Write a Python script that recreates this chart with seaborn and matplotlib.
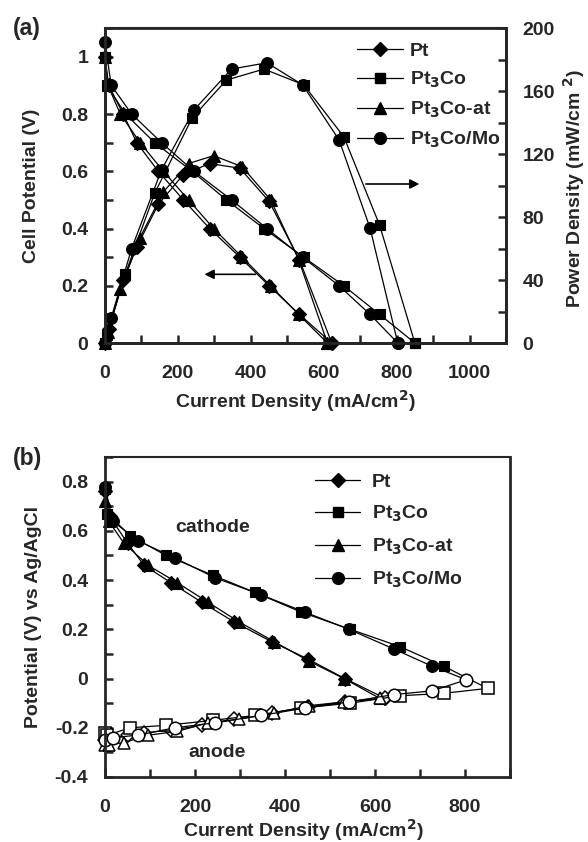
import seaborn as sns
import matplotlib.pyplot as plt
from matplotlib.lines import Line2D
from matplotlib.ticker import MultipleLocator

# current density (mA/cm2) at each measured point, per catalyst
i_pt = [0, 10, 50, 87, 146, 215, 287, 370, 450, 533, 622]
i_pt3co = [0, 5, 56, 136, 239, 333, 436, 545, 655, 753, 850]
i_pt3co_at = [0, 8, 42, 96, 160, 229, 298, 376, 454, 531, 610]
i_pt3co_mo = [0, 17, 73, 155, 244, 347, 444, 542, 642, 727, 803]

# cell potential (V)
v_pt = [1.0, 0.9, 0.8, 0.7, 0.6, 0.5, 0.4, 0.3, 0.2, 0.1, 0.0]
v_pt3co = [1.0, 0.9, 0.8, 0.7, 0.6, 0.5, 0.4, 0.3, 0.2, 0.1, 0.0]
v_pt3co_at = [1.0, 0.9, 0.8, 0.7, 0.6, 0.5, 0.4, 0.3, 0.2, 0.1, 0.0]
v_pt3co_mo = [1.05, 0.9, 0.8, 0.7, 0.6, 0.5, 0.4, 0.3, 0.2, 0.1, 0.0]

# power density (mW/cm2)
p_pt = [0, 9, 40, 61, 88, 107, 114, 111, 90, 53, 0]
p_pt3co = [0, 5, 44, 95, 143, 167, 174, 164, 131, 75, 0]
p_pt3co_at = [0, 7, 34, 67, 96, 114, 119, 112, 91, 53, 0]
p_pt3co_mo = [0, 16, 60, 110, 148, 174, 178, 164, 129, 73, 0]

# electrode potentials vs Ag/AgCl (V)
cat_pt = [0.76, 0.66, 0.55, 0.46, 0.39, 0.31, 0.23, 0.15, 0.08, 0.0, -0.08]
cat_pt3co = [0.77, 0.67, 0.58, 0.50, 0.42, 0.35, 0.27, 0.20, 0.13, 0.05, -0.04]
cat_pt3co_at = [0.72, 0.64, 0.55, 0.46, 0.39, 0.31, 0.23, 0.15, 0.07, 0.0, -0.08]
cat_pt3co_mo = [0.78, 0.64, 0.56, 0.49, 0.41, 0.34, 0.27, 0.20, 0.12, 0.05, -0.005]

an_pt = [-0.25, -0.25, -0.23, -0.22, -0.21, -0.19, -0.165, -0.14, -0.115, -0.095, -0.08]
an_pt3co = [-0.22, -0.23, -0.20, -0.19, -0.17, -0.15, -0.12, -0.10, -0.07, -0.06, -0.04]
an_pt3co_at = [-0.27, -0.27, -0.26, -0.23, -0.215, -0.18, -0.165, -0.14, -0.11, -0.095, -0.08]
an_pt3co_mo = [-0.25, -0.24, -0.23, -0.20, -0.18, -0.15, -0.12, -0.095, -0.065, -0.05, -0.005]

names = ['Pt', 'Pt$_3$Co', 'Pt$_3$Co-at', 'Pt$_3$Co/Mo']
markers = ['D', 's', '^', 'o']
msizes = [7, 7.5, 8.5, 8.5]

sns.set_theme(style='ticks')
plt.rcParams['font.family'] = ['Liberation Sans', 'DejaVu Sans']
plt.rcParams['font.weight'] = 'bold'
plt.rcParams['mathtext.default'] = 'bf'

fig = plt.figure(figsize=(5.88, 8.42), dpi=100)
ax = fig.add_axes([0.1786, 0.5926, 0.682, 0.374])
ax2 = ax.twinx()
bx = fig.add_axes([0.1786, 0.0772, 0.6888, 0.380])

currents = [i_pt, i_pt3co, i_pt3co_at, i_pt3co_mo]
volts = [v_pt, v_pt3co, v_pt3co_at, v_pt3co_mo]
powers = [p_pt, p_pt3co, p_pt3co_at, p_pt3co_mo]
cathodes = [cat_pt, cat_pt3co, cat_pt3co_at, cat_pt3co_mo]
anodes = [an_pt, an_pt3co, an_pt3co_at, an_pt3co_mo]

line_kw = dict(color='black', linewidth=0.9, sort=False, estimator=None,
               markeredgecolor='black', legend=False, clip_on=False)

for cur, v, p, m, ms in zip(currents, volts, powers, markers, msizes):
    sns.lineplot(x=cur, y=v, ax=ax, marker=m, markersize=ms,
                 markerfacecolor='black', markeredgewidth=0.8, **line_kw)
    sns.lineplot(x=cur, y=p, ax=ax2, marker=m, markersize=ms,
                 markerfacecolor='black', markeredgewidth=0.8, **line_kw)

for cur, c, m, ms in zip(currents, cathodes, markers, msizes):
    sns.lineplot(x=cur, y=c, ax=bx, marker=m, markersize=ms,
                 markerfacecolor='black', markeredgewidth=0.8, **line_kw)
for cur, a, m, ms in zip(currents, anodes, markers, msizes):
    sns.lineplot(x=cur, y=a, ax=bx, marker=m, markersize=ms + 0.5,
                 markerfacecolor='white', markeredgewidth=1.1, **line_kw)

fs = 14
for a in [ax, ax2, bx]:
    for s in a.spines.values():
        s.set_linewidth(2.0)
        s.set_visible(True)
    a.tick_params(direction='in', length=6, width=1.8, labelsize=fs, pad=12)
    a.tick_params(which='minor', direction='in', length=6, width=1.8)
ax.tick_params(axis='x', pad=16)
bx.tick_params(axis='x', pad=16)
ax.spines['top'].set_linewidth(1.5)
bx.spines['top'].set_linewidth(1.5)

ax.set_xlim(0, 1100)
ax.set_ylim(0, 1.1)
ax.set_xticks([0, 200, 400, 600, 800, 1000], ['0', '200', '400', '600', '800', '1000'])
ax.xaxis.set_minor_locator(MultipleLocator(100))
ax.set_yticks([0, 0.2, 0.4, 0.6, 0.8, 1.0], ['0', '0.2', '0.4', '0.6', '0.8', '1'])
ax.yaxis.set_minor_locator(MultipleLocator(0.1))

ax2.set_ylim(0, 200)
ax2.yaxis.set_major_locator(MultipleLocator(40))
ax2.yaxis.set_minor_locator(MultipleLocator(20))

bx.set_xlim(0, 900)
bx.set_ylim(-0.4, 0.9)
bx.set_xticks([0, 200, 400, 600, 800], ['0', '200', '400', '600', '800'])
bx.xaxis.set_minor_locator(MultipleLocator(100))
bx.set_yticks([-0.4, -0.2, 0, 0.2, 0.4, 0.6, 0.8],
              ['-0.4', '-0.2', '0', '0.2', '0.4', '0.6', '0.8'])
bx.yaxis.set_minor_locator(MultipleLocator(0.1))

ax.set_xlabel('Current Density (mA/cm$^2$)', fontsize=fs, fontweight='bold')
ax.xaxis.set_label_coords(0.475, -0.143)
ax.set_ylabel('Cell Potential (V)', fontsize=fs, fontweight='bold')
ax.yaxis.set_label_coords(-0.162, 0.5)
ax2.set_ylabel('Power Density (mW/cm $^2$)', fontsize=fs, fontweight='bold')
ax2.yaxis.set_label_coords(1.138, 0.49)

bx.set_xlabel('Current Density (mA/cm$^2$)', fontsize=fs, fontweight='bold')
bx.xaxis.set_label_coords(0.49, -0.124)
bx.set_ylabel('Potential (V) vs Ag/AgCl', fontsize=fs, fontweight='bold')
bx.yaxis.set_label_coords(-0.156, 0.5)

fig.text(0.022, 0.9656, '(a)', fontsize=16.5, fontweight='bold', va='center')
fig.text(0.022, 0.4549, '(b)', fontsize=16.5, fontweight='bold', va='center')

bx.text(240, 0.615, 'cathode', fontsize=fs, fontweight='bold', ha='center', va='center')
bx.text(250, -0.3, 'anode', fontsize=fs, fontweight='bold', ha='center', va='center')

# arrows showing which axis each group belongs to
ax2.annotate('', xy=(870, 101), xytext=(708, 101),
             arrowprops=dict(arrowstyle='-|>', color='black', lw=1.2, mutation_scale=14))
ax.annotate('', xy=(265, 0.24), xytext=(420, 0.24),
            arrowprops=dict(arrowstyle='-|>', color='black', lw=1.2, mutation_scale=14))

handles = [Line2D([0], [0], color='black', lw=0.9, marker=m, markersize=ms,
                  markerfacecolor='black', markeredgecolor='black')
           for m, ms in zip(markers, msizes)]
ax2.legend(handles, names, loc='upper left', bbox_to_anchor=(0.628, 0.955),
           frameon=False, handlelength=2.37, handletextpad=0.36,
           labelspacing=0.5, borderpad=0, borderaxespad=0,
           prop={'weight': 'bold', 'size': fs})
bx.legend(handles, names, loc='upper left', bbox_to_anchor=(0.519, 0.95),
          frameon=False, handlelength=2.3, handletextpad=0.6,
          labelspacing=0.66, borderpad=0, borderaxespad=0,
          prop={'weight': 'bold', 'size': fs})

fig.savefig('out.png', dpi=100)
